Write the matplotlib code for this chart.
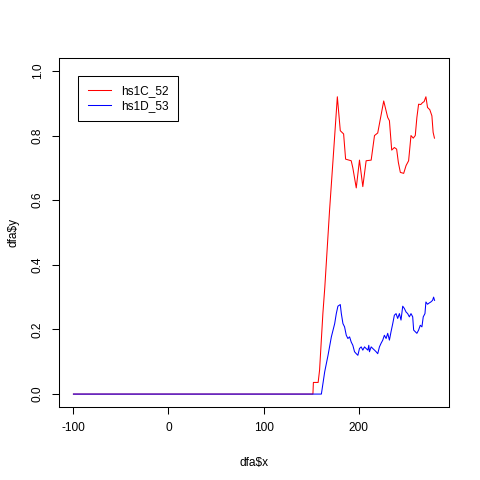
import matplotlib
matplotlib.use("Agg")
import matplotlib.pyplot as plt

plt.rcParams['font.family'] = ['Liberation Sans', 'DejaVu Sans']

# values
x_red = [-100, 152, 152.5, 157.5, 159, 162.5, 164.5, 169.5, 174, 177.7, 180.8,
         184.3, 186.4, 192.3, 194, 197.6, 201, 204.5, 208, 213.3, 216.8, 220.2,
         226.5, 230.7, 232.5, 234.9, 237.7, 240.1, 241.9, 244, 247.5, 250, 252.7,
         255.2, 257.6, 259.7, 261.4, 263.2, 265.5, 267.4, 269, 270.9, 272.6, 275,
         277.2, 278.5, 279.9]
y_red = [0, 0, 0.036, 0.036, 0.074, 0.25, 0.33, 0.568, 0.76, 0.92, 0.815,
         0.805, 0.727, 0.722, 0.70, 0.638, 0.724, 0.642, 0.722, 0.724, 0.80, 0.808,
         0.907, 0.856, 0.846, 0.755, 0.763, 0.758, 0.717, 0.686, 0.683, 0.707, 0.722,
         0.80, 0.792, 0.80, 0.856, 0.897, 0.896, 0.902, 0.905, 0.92, 0.887, 0.88,
         0.861, 0.81, 0.792]

x_blue = [-100, 160.9, 164.4, 167.9, 171.4, 174.9, 176.6, 178.3, 180.8, 181.9,
          183.6, 185.3, 187.1, 188.8, 190.6, 192.3, 194, 195.8, 197.6, 199.3, 201,
          202.8, 204.5, 206.3, 208, 209.8, 210.8, 211.5, 213.3, 215, 216.8, 218.5,
          220.2, 222, 223.7, 225.5, 227.2, 229, 230.7, 232.5, 234.2, 236, 237.7,
          239.5, 241.2, 243, 244.7, 246.5, 248.2, 250, 251.7, 253.5, 255.2, 257,
          258, 259.7, 261.4, 263.2, 265, 266.7, 268.1, 269.9, 270.9, 272.6, 274.4,
          276.1, 277.9, 279, 280]
y_blue = [0, 0, 0.069, 0.12, 0.177, 0.218, 0.249, 0.272, 0.277, 0.249,
          0.218, 0.208, 0.182, 0.172, 0.177, 0.161, 0.151, 0.131, 0.125, 0.12, 0.141,
          0.146, 0.136, 0.146, 0.141, 0.136, 0.151, 0.131, 0.146, 0.141, 0.136, 0.131,
          0.125, 0.146, 0.157, 0.167, 0.182, 0.172, 0.188, 0.167, 0.193, 0.218, 0.244,
          0.249, 0.234, 0.249, 0.229, 0.272, 0.265, 0.254, 0.249, 0.239, 0.249, 0.239,
          0.198, 0.193, 0.188, 0.198, 0.213, 0.208, 0.239, 0.249, 0.285, 0.278, 0.282,
          0.285, 0.29, 0.30, 0.29]

x_ticks = [-100, 0, 100, 200]
y_ticks = [0.0, 0.2, 0.4, 0.6, 0.8, 1.0]

fig = plt.figure(figsize=(4.8, 4.8), dpi=100)
ax = fig.add_axes([59/480, 1 - 407/480, 390/480, 349/480])

ax.plot(x_red, y_red, color='red', lw=0.75, label='hs1C_52')
ax.plot(x_blue, y_blue, color='blue', lw=0.75, label='hs1D_53')

ax.set_xlim(-115.2, 295.2)
ax.set_ylim(-0.04, 1.04)
ax.set_xticks(x_ticks)
ax.set_xticklabels([str(v) for v in x_ticks])
ax.set_yticks(y_ticks)
ax.set_yticklabels(['%.1f' % v for v in y_ticks], rotation=90, va='center')
ax.tick_params(direction='out', length=5, width=0.75, labelsize=8.6, pad=6)
for s in ax.spines.values():
    s.set_linewidth(0.75)

ax.set_xlabel('dfa$x', fontsize=8.6, labelpad=16.5)
ax.set_ylabel('dfa$y', fontsize=8.6, labelpad=9)

leg = ax.legend(loc='upper left', bbox_to_anchor=(0.0495, 0.949), borderaxespad=0,
                fancybox=False, edgecolor='black', framealpha=1, fontsize=8.6,
                handlelength=1.9, handletextpad=0.9, borderpad=0.8, labelspacing=0.2)
leg.get_frame().set_linewidth(0.75)

fig.savefig('out.png', dpi=100)
